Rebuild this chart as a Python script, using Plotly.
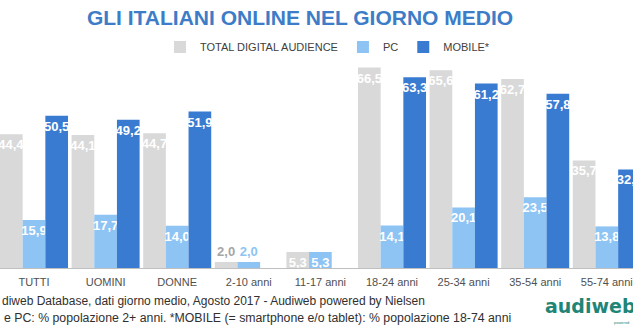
import plotly.graph_objects as go

categories = ["TUTTI", "UOMINI", "DONNE", "2-10 anni", "11-17 anni",
              "18-24 anni", "25-34 anni", "35-54 anni", "55-74 anni"]
total_digital = [44.4, 44.1, 44.7, 2.0, 5.3, 66.5, 65.6, 62.7, 35.7]
pc = [15.9, 17.7, 14.0, 2.0, 5.3, 14.1, 20.1, 23.5, 13.8]
mobile = [50.5, 49.2, 51.9, None, None, 63.3, 61.2, 57.8, 32.7]

series_names = ["TOTAL DIGITAL AUDIENCE", "PC", "MOBILE*"]
colors = ["#D9D9D9", "#8EC4F4", "#3A7BD2"]
outside_colors = ["#A6A6A6", "#8EC4F4", "#3A7BD2"]

W, H = 633, 335
T, B = 57, 67
plot_h = H - T - B
group_px = 71.6
first_center_px = 34
r0 = -first_center_px / group_px
r1 = r0 + W / group_px

fig = go.Figure()
for name, vals, col, ocol in zip(series_names, [total_digital, pc, mobile], colors, outside_colors):
    positions = ["outside" if (v is not None and v < 3) else "inside" for v in vals]
    fig.add_trace(go.Bar(
        x=categories, y=vals, name=name,
        marker=dict(color=col, line=dict(width=0)),
        texttemplate="%{y:.1f}",
        textposition=positions,
        insidetextanchor="end",
        constraintext="none",
        textangle=0,
        insidetextfont=dict(family="Liberation Sans, Arial", size=13, color="white", weight="bold"),
        outsidetextfont=dict(family="Liberation Sans, Arial", size=13, color=ocol, weight="bold"),
        cliponaxis=True,
    ))

fig.update_layout(
    width=W, height=H,
    margin=dict(l=0, r=0, t=T, b=B, pad=0),
    paper_bgcolor="white", plot_bgcolor="white",
    barmode="group", bargap=0.05, bargroupgap=0,
    separators=",.",
    title=dict(text="<b>GLI ITALIANI ONLINE NEL GIORNO MEDIO</b>",
               x=300 / W, xanchor="center", y=1 - 18 / H, yanchor="middle",
               font=dict(family="Liberation Sans, Arial", size=21, color="#3D7CC7")),
    legend=dict(orientation="h", x=160 / W, xanchor="left",
                y=1 + 10 / plot_h, yanchor="middle",
                font=dict(family="Liberation Sans Narrow, Arial Narrow, Liberation Sans", size=11, color="#404040"),
                bgcolor="rgba(0,0,0,0)", itemclick=False),
    showlegend=True,
    xaxis=dict(range=[r0, r1], showline=True, linecolor="#BFBFBF", linewidth=1,
               ticks="", showgrid=False, zeroline=False,
               tickfont=dict(family="Liberation Sans, Arial", size=11, color="#505050"),
               ticklabelstandoff=4),
    yaxis=dict(range=[0, 70], visible=False, showgrid=False, zeroline=False),
)

def py(p):
    return (H - B - p) / plot_h

fig.add_annotation(text="diweb Database, dati giorno medio, Agosto 2017 - Audiweb powered by Nielsen",
                   xref="paper", yref="paper", x=0, y=py(301), xanchor="left", yanchor="middle",
                   showarrow=False, font=dict(family="Liberation Sans, Arial", size=12, color="#303030"))
fig.add_annotation(text="e PC: % popolazione 2+ anni. *MOBILE (= smartphone e/o tablet): % popolazione 18-74 anni",
                   xref="paper", yref="paper", x=2 / W, y=py(318), xanchor="left", yanchor="middle",
                   showarrow=False, font=dict(family="Liberation Sans, Arial", size=12.3, color="#303030"))
fig.add_annotation(text="<b>audiweb</b>",
                   xref="paper", yref="paper", x=543 / W, y=py(306), xanchor="left", yanchor="middle",
                   showarrow=False, font=dict(family="DejaVu Sans", size=19, color="#1F8577"))
fig.add_annotation(text="powered",
                   xref="paper", yref="paper", x=612 / W, y=py(322), xanchor="left", yanchor="middle",
                   showarrow=False, font=dict(family="Liberation Sans, Arial", size=4, color="#1F8577"))

fig.write_html("out.html")
